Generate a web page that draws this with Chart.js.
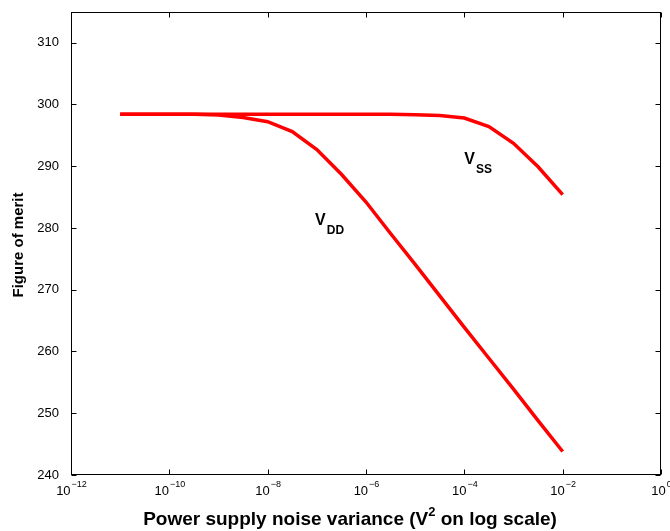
<!DOCTYPE html>
<html lang="en">
  <head>
    <meta charset="UTF-8" />
    <title>Figure of merit vs power supply noise</title>
    <style>
      body {
        margin: 0;
        background-color: #fff;
      }
      .chart-container {
        width: 670px;
        height: 531px;
      }
    </style>
  </head>
  <body>
    <div class="chart-container">
      <canvas id="fomChart"></canvas>
    </div>

    <script src="https://cdn.jsdelivr.net/npm/chart.js"></script>
    <script>
      // noise variance (V^2), half-decade steps
      const noiseVar = [
        1e-11, 3.16e-11, 1e-10, 3.16e-10, 1e-9, 3.16e-9, 1e-8, 3.16e-8, 1e-7,
        3.16e-7, 1e-6, 3.16e-6, 1e-5, 3.16e-5, 1e-4, 3.16e-4, 1e-3, 3.16e-3, 1e-2,
      ];
      const fomVdd = [
        298.4, 298.4, 298.4, 298.4, 298.3, 297.9, 297.2, 295.6, 292.7, 288.7,
        284.2, 279.1, 274.1, 269.0, 263.9, 258.9, 253.9, 248.8, 243.8,
      ];
      const fomVss = [
        298.4, 298.4, 298.4, 298.4, 298.4, 298.4, 298.4, 298.4, 298.4, 298.4,
        298.4, 298.4, 298.35, 298.2, 297.8, 296.4, 293.7, 289.9, 285.4,
      ];

      const xTickExps = [-12, -10, -8, -6, -4, -2, 0];
      const yTicks = [240, 250, 260, 270, 280, 290, 300, 310];

      // curve annotations
      const labelMain = ["V", "V"];
      const labelSub = ["DD", "SS"];
      const labelX = [9.2e-8, 1.0e-4];
      const labelY = [280.5, 290.4];

      const FONT = "'Liberation Sans', Arial, Helvetica, sans-serif";

      const toPoints = (ys) => noiseVar.map((v, i) => ({ x: v, y: ys[i] }));

      const matlabAxes = {
        id: "matlabAxes",
        afterDraw(chart) {
          const { ctx, chartArea: a, scales } = chart;
          const x = scales.x;
          const y = scales.y;
          ctx.save();

          // box
          ctx.strokeStyle = "#000";
          ctx.lineWidth = 1;
          const L = Math.round(a.left) + 0.5;
          const R = Math.round(a.right) - 0.5;
          const T = Math.round(a.top) + 0.5;
          const B = Math.round(a.bottom) - 0.5;
          ctx.strokeRect(L, T, R - L, B - T);

          // inward ticks, all four sides
          ctx.beginPath();
          xTickExps.forEach((e) => {
            const px = Math.round(x.getPixelForValue(Math.pow(10, e))) + 0.5;
            ctx.moveTo(px, B);
            ctx.lineTo(px, B - 5);
            ctx.moveTo(px, T);
            ctx.lineTo(px, T + 5);
          });
          yTicks.forEach((v) => {
            const py = Math.round(y.getPixelForValue(v)) + 0.5;
            ctx.moveTo(L, py);
            ctx.lineTo(L + 5, py);
            ctx.moveTo(R, py);
            ctx.lineTo(R - 5, py);
          });
          ctx.stroke();

          // x tick labels: 10 with superscript exponent
          ctx.fillStyle = "#000";
          ctx.textBaseline = "alphabetic";
          ctx.textAlign = "left";
          xTickExps.forEach((e) => {
            const px = x.getPixelForValue(Math.pow(10, e));
            const expStr = e === 0 ? "0" : "\u2212" + Math.abs(e);
            ctx.font = "13px " + FONT;
            const wBase = ctx.measureText("10").width;
            ctx.font = "9px " + FONT;
            const wExp = ctx.measureText(expStr).width;
            const x0 = px - (wBase + wExp) / 2;
            ctx.font = "13px " + FONT;
            ctx.fillText("10", x0, a.bottom + 20);
            ctx.font = "9px " + FONT;
            ctx.fillText(expStr, x0 + wBase + 1, a.bottom + 12);
          });

          // x title with superscript 2
          const p1 = "Power supply noise variance (V";
          const p2 = "2";
          const p3 = " on log scale)";
          ctx.font = "bold 19px " + FONT;
          const w1 = ctx.measureText(p1).width;
          const w3 = ctx.measureText(p3).width;
          ctx.font = "bold 13px " + FONT;
          const w2 = ctx.measureText(p2).width;
          const cx = 350;
          let tx = cx - (w1 + w2 + w3) / 2;
          const ty = 525;
          ctx.font = "bold 19px " + FONT;
          ctx.fillText(p1, tx, ty);
          ctx.font = "bold 13px " + FONT;
          ctx.fillText(p2, tx + w1, ty - 9);
          ctx.font = "bold 19px " + FONT;
          ctx.fillText(p3, tx + w1 + w2, ty);

          // y title
          ctx.save();
          ctx.translate(23, 245);
          ctx.rotate(-Math.PI / 2);
          ctx.textAlign = "center";
          ctx.font = "bold 15px " + FONT;
          ctx.fillText("Figure of merit", 0, 0);
          ctx.restore();

          // curve labels
          labelMain.forEach((m, i) => {
            const lx = x.getPixelForValue(labelX[i]);
            const ly = y.getPixelForValue(labelY[i]);
            ctx.font = "bold 16px " + FONT;
            ctx.fillText(m, lx, ly);
            const wm = ctx.measureText(m).width;
            ctx.font = "bold 12px " + FONT;
            ctx.fillText(labelSub[i], lx + wm + 1, ly + 9);
          });

          ctx.restore();
        },
      };

      const config = {
        type: "line",
        data: {
          datasets: [
            {
              label: "VDD",
              data: toPoints(fomVdd),
              borderColor: "#ff0000",
              borderWidth: 3.5,
              pointRadius: 0,
              tension: 0,
              fill: false,
            },
            {
              label: "VSS",
              data: toPoints(fomVss),
              borderColor: "#ff0000",
              borderWidth: 3.5,
              pointRadius: 0,
              tension: 0,
              fill: false,
            },
          ],
        },
        options: {
          responsive: false,
          animation: false,
          layout: { padding: { top: 11, right: 9, left: 0, bottom: 0 } },
          plugins: {
            legend: { display: false },
            tooltip: { enabled: false },
          },
          scales: {
            x: {
              type: "logarithmic",
              min: 1e-12,
              max: 1,
              grid: { display: false },
              border: { display: false },
              ticks: { display: false },
              afterBuildTicks: (scale) => {
                scale.ticks = xTickExps.map((e) => ({ value: Math.pow(10, e) }));
              },
              afterFit: (scale) => {
                scale.height = 56;
              },
            },
            y: {
              min: 240,
              max: 315,
              grid: { display: false },
              border: { display: false },
              ticks: {
                stepSize: 10,
                includeBounds: false,
                color: "#000",
                padding: 4,
                font: { family: FONT, size: 13 },
              },
              afterBuildTicks: (scale) => {
                scale.ticks = yTicks.map((v) => ({ value: v }));
              },
              afterFit: (scale) => {
                scale.width = 71;
              },
            },
          },
        },
        plugins: [matlabAxes],
      };

      const canvas = document.getElementById("fomChart");
      canvas.width = 670;
      canvas.height = 531;
      new Chart(canvas, config);
    </script>
  </body>
</html>
